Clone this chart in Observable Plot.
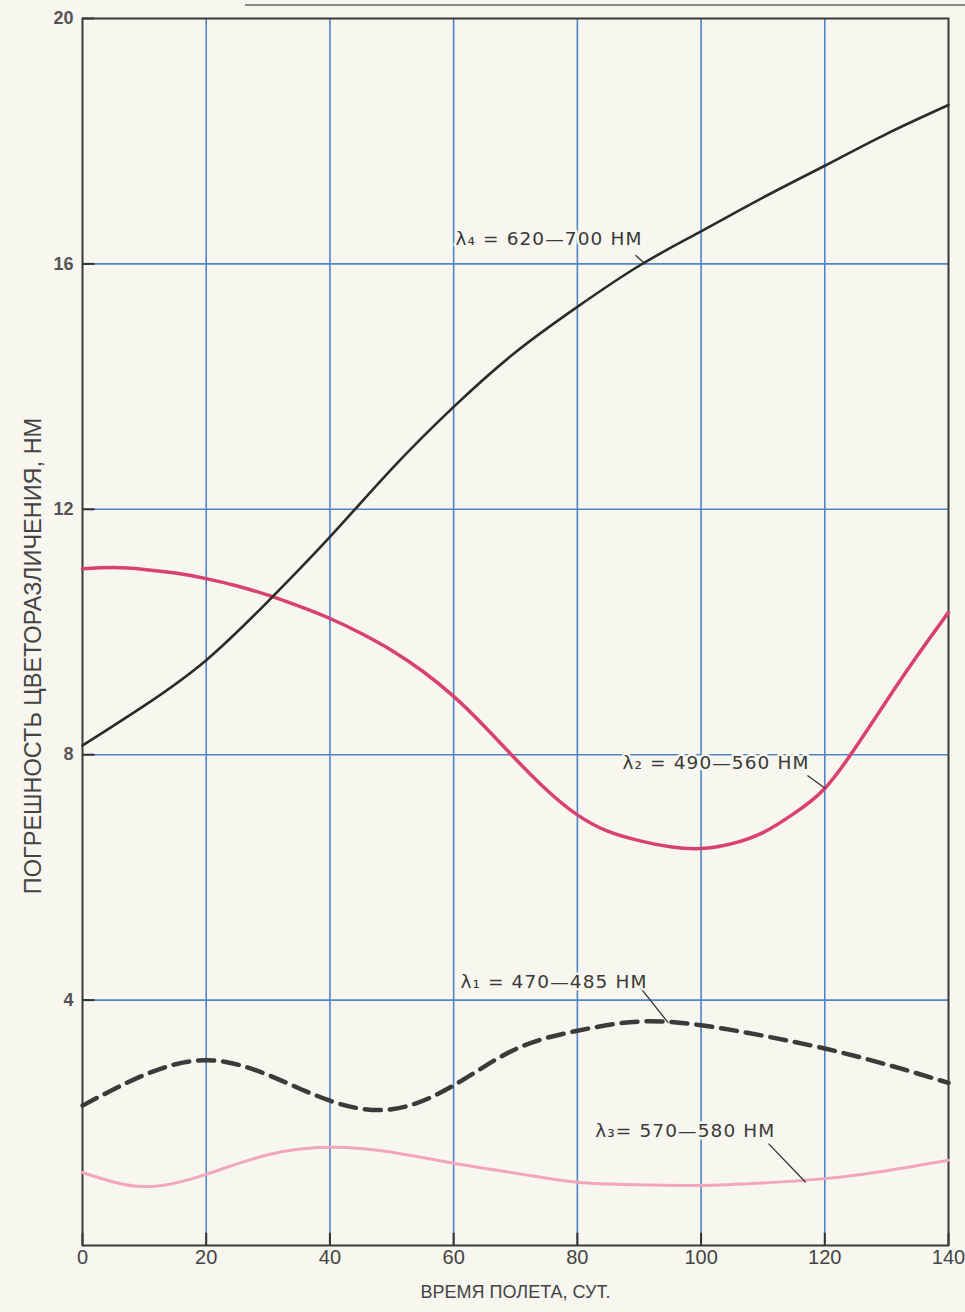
<!DOCTYPE html>
<html>
<head>
<meta charset="utf-8">
<script src="https://cdn.jsdelivr.net/npm/d3@7"></script>
<script src="https://cdn.jsdelivr.net/npm/@observablehq/plot@0.6"></script>
<style>
  html, body { margin: 0; padding: 0; background: #f7f6ef; }
  #wrap { position: relative; width: 965px; height: 1312px; }
  #topline { position: absolute; left: 245px; top: 4px; width: 720px; height: 0; border-top: 2px solid #888; }
</style>
</head>
<body>
<div id="wrap"><div id="topline"></div><div id="chart"></div></div>
<script>
// Data
const days = [0, 10, 20, 30, 40, 50, 60, 70, 80, 90, 100, 110, 120, 130, 140];
const lambda4 = [8.15, 8.8, 9.54, 10.5, 11.55, 12.66, 13.67, 14.56, 15.3, 15.97, 16.53, 17.08, 17.6, 18.12, 18.59];
const lambda1 = [2.28, 2.78, 3.02, 2.78, 2.36, 2.22, 2.61, 3.2, 3.5, 3.65, 3.59, 3.42, 3.21, 2.95, 2.65];
const lambda3 = [1.19, 0.96, 1.16, 1.48, 1.6, 1.52, 1.34, 1.18, 1.03, 0.99, 0.98, 1.02, 1.09, 1.22, 1.39];
const days2 = [0, 5, 10, 15, 20, 25, 30, 35, 40, 45, 50, 55, 60, 65, 70, 75, 80, 85, 90, 95, 100, 105, 110, 115, 120, 125, 130, 135, 140];
const lambda2 = [11.03, 11.05, 11.02, 10.96, 10.87, 10.75, 10.6, 10.42, 10.22, 9.98, 9.7, 9.36, 8.95, 8.46, 7.93, 7.43, 7.02, 6.75, 6.6, 6.5, 6.47, 6.55, 6.73, 7.04, 7.45, 8.12, 8.88, 9.62, 10.32];

const xTicks = [0, 20, 40, 60, 80, 100, 120, 140];
const yTicks = [4, 8, 12, 16, 20];
const yTickLabels = ["4", "8", "12", "16", "20"];

const labelNames = ["λ₄ = 620—700 НМ", "λ₂ = 490—560 НМ", "λ₁ = 470—485 НМ", "λ₃= 570—580 НМ"];
const labelX = [60.3, 87.3, 61.1, 82.9];
const labelY = [16.41, 7.86, 4.29, 1.86];
const leaderX1 = [89.4, 117.2, 90.2, 110.9];
const leaderY1 = [16.14, 7.66, 4.2, 1.66];
const leaderX2 = [91.0, 120.1, 94.7, 116.9];
const leaderY2 = [16.0, 7.45, 3.63, 1.03];

const xTitle = "ВРЕМЯ ПОЛЕТА, СУТ.";
const yTitle = "ПОГРЕШНОСТЬ ЦВЕТОРАЗЛИЧЕНИЯ, НМ";

const series = (xs, vals) => xs.map((d, i) => ({x: d, y: vals[i]}));
const labels = labelNames.map((t, i) => ({t, x: labelX[i], y: labelY[i]}));
const leaders = labelNames.map((t, i) => ({x1: leaderX1[i], y1: leaderY1[i], x2: leaderX2[i], y2: leaderY2[i]}));

const bg = "#f7f6ef";
const gridColor = "#4f86c6";
const sans = "'Liberation Sans', Arial, sans-serif";

const chart = Plot.plot({
  width: 965,
  height: 1312,
  marginLeft: 82,
  marginRight: 17,
  marginTop: 18,
  marginBottom: 67,
  style: {background: "transparent", fontFamily: sans},
  x: {domain: [0, 140], axis: null},
  y: {domain: [0, 20], axis: null},
  marks: [
    Plot.ruleX(xTicks.slice(1, -1), {stroke: gridColor, strokeWidth: 1.6}),
    Plot.ruleY(yTicks.slice(0, -1), {stroke: gridColor, strokeWidth: 1.6}),
    // inner ticks
    Plot.ruleX(xTicks, {y1: 0, y2: 0.2, stroke: "#333", strokeWidth: 2}),
    Plot.ruleY(yTicks, {x1: 0, x2: 2, stroke: "#333", strokeWidth: 2}),
    Plot.frame({stroke: "#3a3a3a", strokeWidth: 2}),
    Plot.line(series(days, lambda3), {x: "x", y: "y", stroke: "#f2a6bd", strokeWidth: 3, curve: "natural"}),
    Plot.line(series(days, lambda1), {x: "x", y: "y", stroke: "#3b3b3b", strokeWidth: 4.5, strokeDasharray: "16,9", curve: "natural"}),
    Plot.line(series(days2, lambda2), {x: "x", y: "y", stroke: "#d9416f", strokeWidth: 3.5, curve: "natural"}),
    Plot.line(series(days, lambda4), {x: "x", y: "y", stroke: "#2b2b2b", strokeWidth: 2.6, curve: "natural"}),
    Plot.link(leaders, {x1: "x1", y1: "y1", x2: "x2", y2: "y2", stroke: "#333", strokeWidth: 1.3}),
    Plot.text(labels, {x: "x", y: "y", text: "t", textAnchor: "start", fontSize: 18.5, fill: "#3a3a3a",
      stroke: bg, strokeWidth: 5, fontFamily: "'DejaVu Sans', sans-serif"}),
    // tick labels
    Plot.text(xTicks, {x: d => d, frameAnchor: "bottom", dy: 18, text: d => String(d), fontSize: 20, fill: "#444"}),
    Plot.text(yTicks, {y: d => d, frameAnchor: "left", dx: -9, textAnchor: "end", text: (d, i) => yTickLabels[i], fontSize: 18, fontWeight: 700, fill: "#555"}),
    Plot.text([xTitle], {frameAnchor: "bottom", dy: 52, text: d => d, fontSize: 18, fill: "#444"}),
    Plot.text([yTitle], {frameAnchor: "left", dx: -49, dy: 24, rotate: -90, textAnchor: "middle", text: d => d, fontSize: 23.5, fill: "#444"})
  ]
});
d3.select(chart).selectAll("text").filter(function() { return this.textContent.startsWith("λ"); })
  .style("letter-spacing", "1.1px");
document.getElementById("chart").appendChild(chart);
</script>
</body>
</html>
